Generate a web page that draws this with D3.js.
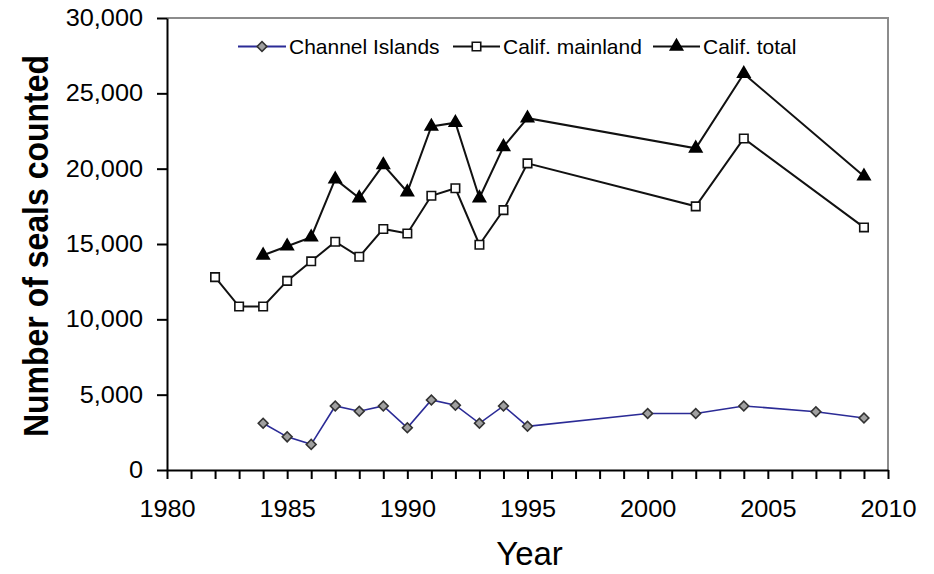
<!DOCTYPE html>
<html>
<head>
<meta charset="utf-8">
<script src="https://cdn.jsdelivr.net/npm/d3@7"></script>
<style>
  html, body { margin: 0; padding: 0; background: #fff; }
  svg { display: block; font-family: "Liberation Sans", Arial, sans-serif; }
</style>
</head>
<body>
<svg id="chart" width="934" height="574"></svg>
<script>
// ---- data ----
const yearsChannel = [1984,1985,1986,1987,1988,1989,1990,1991,1992,1993,1994,1995,2000,2002,2004,2007,2009];
const channelIslands = [3100,2200,1700,4250,3900,4250,2800,4650,4300,3100,4250,2900,3750,3750,4250,3870,3450];

const yearsMainland = [1982,1983,1984,1985,1986,1987,1988,1989,1990,1991,1992,1993,1994,1995,2002,2004,2009];
const califMainland = [12800,10850,10850,12550,13850,15150,14150,16000,15700,18200,18700,14950,17250,20350,17500,22000,16100];

const yearsTotal = [1984,1985,1986,1987,1988,1989,1990,1991,1992,1993,1994,1995,2002,2004,2009];
const califTotal = [14250,14850,15450,19300,18050,20250,18450,22800,23050,18050,21450,23350,21350,26300,19500];

const seriesNames = ["Channel Islands", "Calif. mainland", "Calif. total"];
const yTicks = [0,5000,10000,15000,20000,25000,30000];
const xTickYears = d3.range(1980, 2011);
const xLabelYears = [1980,1985,1990,1995,2000,2005,2010];

// ---- layout ----
const svg = d3.select("#chart");
const L = 167, R = 888, T = 18, B = 470;
const x = d3.scaleLinear().domain([1980, 2010]).range([L, R]);
const y = d3.scaleLinear().domain([0, 30000]).range([B, T]);
const SX = 1.1; // horizontal stretch of text seen in the reference

// frame top/right (gray)
svg.append("path")
  .attr("d", `M${L},${T}H${R}V${B}`)
  .attr("fill", "none").attr("stroke", "#8c8c8c").attr("stroke-width", 2);

// y axis
const yAxis = svg.append("g").attr("transform", `translate(${L},0)`)
  .call(d3.axisLeft(y).tickValues(yTicks).tickFormat(d3.format(",")).tickSize(10).tickSizeOuter(0).tickPadding(14));
yAxis.selectAll("text")
  .attr("font-size", 23).attr("fill", "#000").attr("font-family", "Liberation Sans, Arial, sans-serif")
  .attr("x", -24 / SX).attr("transform", `scale(${SX},1)`);

// x axis
const xAxis = svg.append("g").attr("transform", `translate(0,${B})`)
  .call(d3.axisBottom(x).tickValues(xTickYears)
    .tickFormat(d => xLabelYears.includes(d) ? String(d) : "")
    .tickSize(9).tickSizeOuter(0).tickPadding(22));
xAxis.selectAll("text")
  .attr("font-size", 23).attr("fill", "#000").attr("font-family", "Liberation Sans, Arial, sans-serif")
  .attr("transform", `scale(${SX},1)`);

[yAxis, xAxis].forEach(g => {
  g.select(".domain").attr("stroke", "#000").attr("stroke-width", 2);
  g.selectAll(".tick line").attr("stroke", "#000").attr("stroke-width", 2);
});

// axis titles
svg.append("text")
  .attr("transform", `translate(48,246) scale(${SX},1) rotate(-90)`)
  .attr("text-anchor", "middle")
  .attr("font-size", 32).attr("font-weight", "bold").attr("fill", "#000")
  .text("Number of seals counted");

svg.append("text")
  .attr("x", (L + R) / 2 + 2).attr("y", 565)
  .attr("text-anchor", "middle")
  .attr("font-size", 33).attr("fill", "#000")
  .text("Year");

// ---- series ----
const line = d3.line().x(d => x(d[0])).y(d => y(d[1]));
const zip = (a, b) => a.map((v, i) => [v, b[i]]);

const dataCI = zip(yearsChannel, channelIslands);
const dataML = zip(yearsMainland, califMainland);
const dataTT = zip(yearsTotal, califTotal);

const diamond = d3.symbol().type(d3.symbolSquare).size(48);
const square = d3.symbol().type(d3.symbolSquare).size(72);
const triangle = d3.symbol().type(d3.symbolTriangle).size(66);

function drawSeries(data, lineColor, lineWidth, markerFn, fill, stroke, rotate) {
  svg.append("path").datum(data)
    .attr("d", line).attr("fill", "none")
    .attr("stroke", lineColor).attr("stroke-width", lineWidth);
  svg.append("g").selectAll("path").data(data).join("path")
    .attr("d", markerFn)
    .attr("transform", d => `translate(${x(d[0])},${y(d[1])})` + (rotate ? " rotate(45)" : ""))
    .attr("fill", fill).attr("stroke", stroke).attr("stroke-width", 1.6);
}

drawSeries(dataCI, "#2b2b96", 1.6, diamond, "#a0a0a0", "#333", true);
drawSeries(dataML, "#111", 2, square, "#fff", "#111", false);
drawSeries(dataTT, "#111", 2, triangle, "#000", "#000", false);

// ---- legend ----
const legendItems = [
  { name: seriesNames[0], x1: 238, x2: 286, color: "#2b2b96", marker: diamond, fill: "#a0a0a0", stroke: "#333", rot: true },
  { name: seriesNames[1], x1: 453, x2: 500, color: "#111", marker: square, fill: "#fff", stroke: "#111", rot: false },
  { name: seriesNames[2], x1: 653, x2: 700, color: "#111", marker: triangle, fill: "#000", stroke: "#000", rot: false }
];
const ly = 46.5;
legendItems.forEach(it => {
  const g = svg.append("g");
  g.append("line").attr("x1", it.x1).attr("x2", it.x2).attr("y1", ly).attr("y2", ly)
    .attr("stroke", it.color).attr("stroke-width", 2);
  g.append("path").attr("d", it.marker)
    .attr("transform", `translate(${(it.x1 + it.x2) / 2},${ly})` + (it.rot ? " rotate(45)" : ""))
    .attr("fill", it.fill).attr("stroke", it.stroke).attr("stroke-width", 1.6);
  g.append("text")
    .attr("transform", `translate(${it.x2 + 3},${ly + 7}) scale(1.05,1)`)
    .attr("font-size", 20).attr("fill", "#000")
    .text(it.name);
});
</script>
</body>
</html>
